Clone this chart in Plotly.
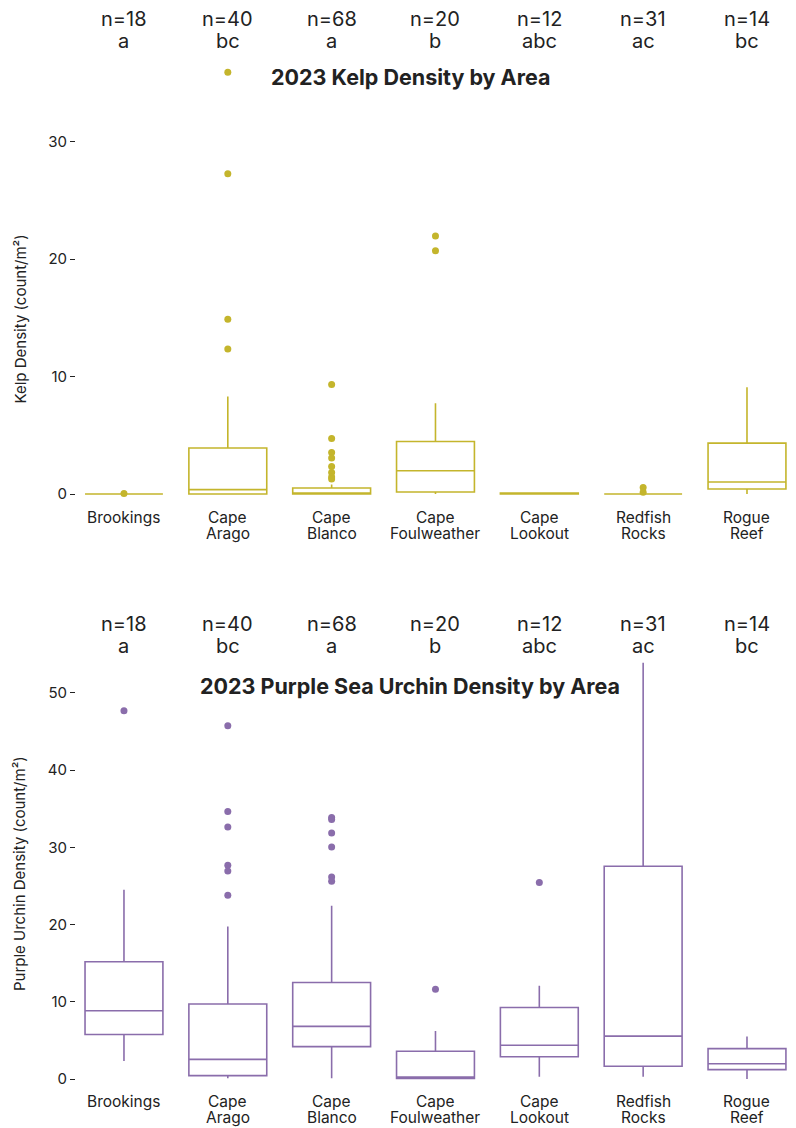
import plotly.graph_objects as go

areas = ["Brookings", "Cape Arago", "Cape Blanco", "Cape Foulweather",
         "Cape Lookout", "Redfish Rocks", "Rogue Reef"]
label_line1 = ["Brookings", "Cape", "Cape", "Cape", "Cape", "Redfish", "Rogue"]
label_line2 = ["", "Arago", "Blanco", "Foulweather", "Lookout", "Rocks", "Reef"]
n_counts = [18, 40, 68, 20, 12, 31, 14]
letters = ["a", "bc", "a", "b", "abc", "ac", "bc"]

# Kelp density box statistics
kelp_q1 = [0, 0, 0, 0.17, 0, 0, 0.42]
kelp_median = [0, 0.37, 0.08, 1.98, 0, 0, 1.02]
kelp_q3 = [0, 3.91, 0.51, 4.47, 0.08, 0, 4.33]
kelp_low = [0, 0, 0, 0, 0, 0, 0]
kelp_high = [0, 8.3, 0.8, 7.73, 0.1, 0, 9.09]
kelp_out_area = ["Brookings", "Cape Arago", "Cape Arago", "Cape Arago", "Cape Arago",
                 "Cape Blanco", "Cape Blanco", "Cape Blanco", "Cape Blanco", "Cape Blanco",
                 "Cape Blanco", "Cape Blanco", "Cape Blanco",
                 "Cape Foulweather", "Cape Foulweather",
                 "Redfish Rocks", "Redfish Rocks"]
kelp_out_val = [0.05, 35.9, 27.25, 14.87, 12.35,
                9.31, 4.73, 3.54, 3.06, 2.35, 1.84, 1.44, 1.27,
                21.95, 20.7,
                0.56, 0.15]

# Purple urchin density box statistics
urch_q1 = [5.77, 0.44, 4.2, 0.09, 2.89, 1.66, 1.22]
urch_median = [8.84, 2.54, 6.82, 0.25, 4.37, 5.56, 1.97]
urch_q3 = [15.18, 9.71, 12.51, 3.59, 9.27, 27.56, 3.94]
urch_low = [2.32, 0.09, 0.09, 0, 0.3, 0.3, 0]
urch_high = [24.5, 19.77, 22.44, 6.21, 12.07, 53.9, 5.51]
urch_out_area = ["Brookings", "Cape Arago", "Cape Arago", "Cape Arago", "Cape Arago",
                 "Cape Arago", "Cape Arago", "Cape Blanco", "Cape Blanco", "Cape Blanco",
                 "Cape Blanco", "Cape Blanco", "Cape Blanco", "Cape Foulweather",
                 "Cape Lookout"]
urch_out_val = [47.7, 45.76, 34.65, 32.63, 27.69, 26.95, 23.8,
                33.86, 33.6, 31.85, 30.05, 26.16, 25.6, 11.64, 25.46]

KELP = "#c4b52c"
URCH = "#8a6dab"
TXT = "#222222"
FONT = "Inter"

# the page body adds an 8px offset; figure sized to fit the window
OFF = 8
W, H = 796 - OFF, 1128 - OFF
L = 76 - OFF


def py(p):
    """reference-window pixel row -> paper y"""
    return (H - (p - OFF)) / H


fig = go.Figure()

fig.add_trace(go.Box(x=areas, q1=kelp_q1, median=kelp_median, q3=kelp_q3,
                     lowerfence=kelp_low, upperfence=kelp_high,
                     boxpoints=False, width=0.75, whiskerwidth=0,
                     line=dict(color=KELP, width=1.6), fillcolor="rgba(255,255,255,0)",
                     showlegend=False, hoverinfo="skip", xaxis="x", yaxis="y"))
fig.add_trace(go.Scatter(x=kelp_out_area, y=kelp_out_val, mode="markers",
                         marker=dict(color=KELP, size=7), showlegend=False,
                         xaxis="x", yaxis="y3"))

fig.add_trace(go.Box(x=areas, q1=urch_q1, median=urch_median, q3=urch_q3,
                     lowerfence=urch_low, upperfence=urch_high,
                     boxpoints=False, width=0.75, whiskerwidth=0,
                     line=dict(color=URCH, width=1.6), fillcolor="rgba(255,255,255,0)",
                     showlegend=False, hoverinfo="skip", xaxis="x2", yaxis="y2"))
fig.add_trace(go.Scatter(x=urch_out_area, y=urch_out_val, mode="markers",
                         marker=dict(color=URCH, size=7), showlegend=False,
                         xaxis="x2", yaxis="y2"))

xax = dict(type="category", categoryorder="array", categoryarray=areas,
           range=[-0.462, 6.472], showticklabels=False, domain=[0, 1],
           showgrid=False, zeroline=False, showline=False, ticks="", automargin=False)
yax = dict(showgrid=False, zeroline=False, showline=False, ticks="outside",
           ticklen=5, tickwidth=1, tickcolor=TXT, automargin=False, dtick=10,
           tickfont=dict(family=FONT, size=15, color=TXT))

KELP_BOT, KELP_TOP, KELP_TOP_EXT = 501.05, 136.8, 59.25
URCH_BOT, URCH_TOP = 1085.2, 662.1

fig.update_layout(
    xaxis=dict(**xax, anchor="y"),
    xaxis2=dict(**xax, anchor="y2"),
    yaxis=dict(**yax, range=[-0.6, 30.4], domain=[py(KELP_BOT), py(KELP_TOP)], anchor="x",
               title=dict(text="Kelp Density (count/m²)",
                          font=dict(family=FONT, size=15, color=TXT), standoff=18)),
    yaxis3=dict(range=[-0.6, 37], domain=[py(KELP_BOT), py(KELP_TOP_EXT)], anchor="x",
                visible=False, showgrid=False, zeroline=False, automargin=False),
    yaxis2=dict(**yax, range=[-0.8, 54], domain=[py(URCH_BOT), py(URCH_TOP)], anchor="x2",
                title=dict(text="Purple Urchin Density (count/m²)",
                           font=dict(family=FONT, size=15, color=TXT), standoff=18)),
)

annotations = []
for xr, yn, ya, yl1, yl2 in [("x", 19, 41, 517, 533.5), ("x2", 623.6, 645.6, 1101, 1117)]:
    for a, n, l, t1, t2 in zip(areas, n_counts, letters, label_line1, label_line2):
        annotations.append(dict(x=a, xref=xr, y=py(yn), yref="paper",
                                text=f"n={n}", showarrow=False, yanchor="middle",
                                font=dict(family=FONT, size=20, color=TXT)))
        annotations.append(dict(x=a, xref=xr, y=py(ya), yref="paper",
                                text=l, showarrow=False, yanchor="middle",
                                font=dict(family=FONT, size=20, color=TXT)))
        annotations.append(dict(x=a, xref=xr, y=py(yl1), yref="paper",
                                text=t1, showarrow=False, yanchor="middle",
                                font=dict(family=FONT, size=15.5, color=TXT)))
        if t2:
            annotations.append(dict(x=a, xref=xr, y=py(yl2), yref="paper",
                                    text=t2, showarrow=False, yanchor="middle",
                                    font=dict(family=FONT, size=15.5, color=TXT)))
title_x = (410 - 76) / 720
annotations.append(dict(x=title_x, xref="paper", y=py(77), yref="paper",
                        text="<b>2023 Kelp Density by Area</b>", showarrow=False,
                        yanchor="middle", font=dict(family=FONT, size=21.5, color=TXT)))
annotations.append(dict(x=title_x, xref="paper", y=py(686), yref="paper",
                        text="<b>2023 Purple Sea Urchin Density by Area</b>", showarrow=False,
                        yanchor="middle", font=dict(family=FONT, size=21.5, color=TXT)))

fig.update_layout(width=W, height=H, margin=dict(l=L, r=0, t=0, b=0, pad=0),
                  paper_bgcolor="white", plot_bgcolor="rgba(0,0,0,0)",
                  annotations=annotations, font=dict(family=FONT, color=TXT))

fig.write_html("out.html")
